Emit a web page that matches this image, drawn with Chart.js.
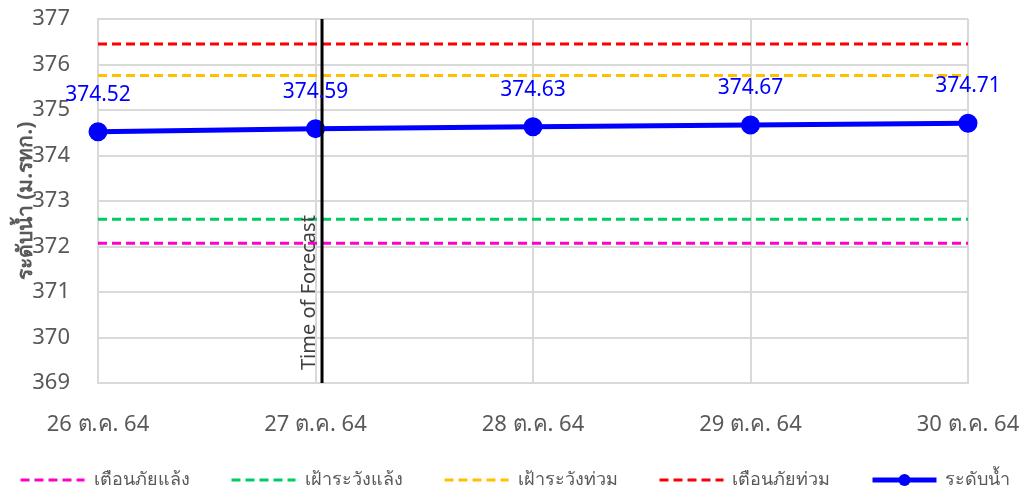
<!DOCTYPE html>
<html>
<head>
<meta charset="utf-8">
<script src="https://cdn.jsdelivr.net/npm/chart.js@4"></script>
<style>
  html, body { margin: 0; padding: 0; background: #fff; }
  #wrap { width: 1022px; height: 491px; }
</style>
</head>
<body>
<div id="wrap"><canvas id="c"></canvas></div>
<script>
const labels = ['26 ต.ค. 64', '27 ต.ค. 64', '28 ต.ค. 64', '29 ต.ค. 64', '30 ต.ค. 64'];
const waterLevel = [374.52, 374.59, 374.63, 374.67, 374.71];
const droughtWarning = [372.07, 372.07, 372.07, 372.07, 372.07];
const droughtWatch = [372.6, 372.6, 372.6, 372.6, 372.6];
const floodWatch = [375.76, 375.76, 375.76, 375.76, 375.76];
const floodWarning = [376.45, 376.45, 376.45, 376.45, 376.45];
const forecastIndex = 1.03;
const forecastText = 'Time of Forecast';

const FONT = "Tahoma, 'Noto Sans', sans-serif";
const LEGEND_LINE = 64;

const dashed = (label, data, color) => ({
    label, data,
    borderColor: color, backgroundColor: color,
    borderWidth: 3, borderDash: [9, 5],
    pointRadius: 0, fill: false
});

// เส้นเวลาพยากรณ์
const forecastLine = {
    id: 'forecastLine',
    afterDatasetsDraw(chart) {
        const { ctx, chartArea, scales } = chart;
        const x = scales.x.getPixelForValue(forecastIndex);
        ctx.save();
        ctx.strokeStyle = '#000';
        ctx.lineWidth = 3;
        ctx.beginPath();
        ctx.moveTo(x, chartArea.top);
        ctx.lineTo(x, chartArea.bottom);
        ctx.stroke();
        ctx.translate(x - 3, chartArea.bottom - 13);
        ctx.rotate(-Math.PI / 2);
        ctx.fillStyle = '#404040';
        ctx.font = '20px ' + FONT;
        ctx.textAlign = 'left';
        ctx.textBaseline = 'bottom';
        ctx.fillText(forecastText, 0, 0);
        ctx.restore();
    }
};

// ป้ายค่าระดับน้ำ
const valueLabels = {
    id: 'valueLabels',
    afterDatasetsDraw(chart) {
        const { ctx } = chart;
        const meta = chart.getDatasetMeta(4);
        ctx.save();
        ctx.fillStyle = '#0000ff';
        ctx.font = '21px ' + FONT;
        ctx.textAlign = 'center';
        ctx.textBaseline = 'middle';
        meta.data.forEach((pt, i) => {
            ctx.fillText(waterLevel[i].toFixed(2), pt.x, pt.y - 37);
        });
        ctx.restore();
    }
};

// จุดกลางเส้นในคำอธิบาย
const legendMarker = {
    id: 'legendMarker',
    afterDraw(chart) {
        const lg = chart.legend;
        if (!lg || !lg.legendHitBoxes) return;
        const box = lg.legendHitBoxes[4];
        const { ctx } = chart;
        ctx.save();
        ctx.fillStyle = '#0000ff';
        ctx.beginPath();
        ctx.arc(box.left + LEGEND_LINE / 2, box.top + box.height / 2, 6, 0, Math.PI * 2);
        ctx.fill();
        ctx.restore();
    }
};

new Chart(document.getElementById('c'), {
    type: 'line',
    data: {
        labels: labels,
        datasets: [
            dashed('เตือนภัยแล้ง', droughtWarning, '#ff00cc'),
            dashed('เฝ้าระวังแล้ง', droughtWatch, '#00cc66'),
            dashed('เฝ้าระวังท่วม', floodWatch, '#ffc000'),
            dashed('เตือนภัยท่วม', floodWarning, '#ff0000'),
            {
                label: 'ระดับน้ำ', data: waterLevel,
                borderColor: '#0000ff', backgroundColor: '#0000ff',
                borderWidth: 5, pointRadius: 7, pointHoverRadius: 7,
                pointBackgroundColor: '#0000ff', fill: false
            }
        ]
    },
    options: {
        responsive: true,
        maintainAspectRatio: false,
        animation: false,
        layout: { padding: { left: 13, right: 4, top: 0, bottom: -8 } },
        plugins: {
            tooltip: { enabled: false },
            legend: {
                position: 'bottom',
                labels: {
                    usePointStyle: true,
                    pointStyle: 'line',
                    pointStyleWidth: LEGEND_LINE,
                    padding: 6,
                    color: '#595959',
                    font: { family: FONT, size: 18 },
                    generateLabels(chart) {
                        const items = Chart.defaults.plugins.legend.labels.generateLabels(chart);
                        items.forEach((it, i) => {
                            const ds = chart.data.datasets[it.datasetIndex];
                            it.pointStyle = 'line';
                            it.lineDash = ds.borderDash || [];
                            it.strokeStyle = ds.borderColor;
                            it.lineWidth = ds.borderWidth;
                            if (i < items.length - 1) it.text += '\u2002\u2002\u2002\u2002';
                        });
                        return items;
                    }
                }
            }
        },
        scales: {
            x: {
                offset: false,
                grid: { color: '#d9d9d9', lineWidth: 2, drawTicks: false },
                border: { color: '#d9d9d9', width: 2 },
                ticks: { color: '#595959', padding: 29, maxRotation: 0, font: { family: FONT, size: 22 } },
                afterFit(s) { s.paddingRight = 54; s.height = 82; }
            },
            y: {
                min: 369, max: 377,
                grid: { color: '#d9d9d9', lineWidth: 2, drawTicks: false },
                border: { color: '#d9d9d9', width: 2 },
                ticks: { stepSize: 1, color: '#595959', padding: 28, font: { family: FONT, size: 22 } },
                title: {
                    display: true, text: 'ระดับน้ำ (ม.รทก.)',
                    color: '#595959', padding: 0,
                    font: { family: FONT, size: 21, weight: 'bold' }
                },
                afterFit(s) { s.paddingTop = 19; s.paddingBottom = 0; s.width = 85; }
            }
        }
    },
    plugins: [forecastLine, valueLabels, legendMarker]
});
</script>
</body>
</html>
